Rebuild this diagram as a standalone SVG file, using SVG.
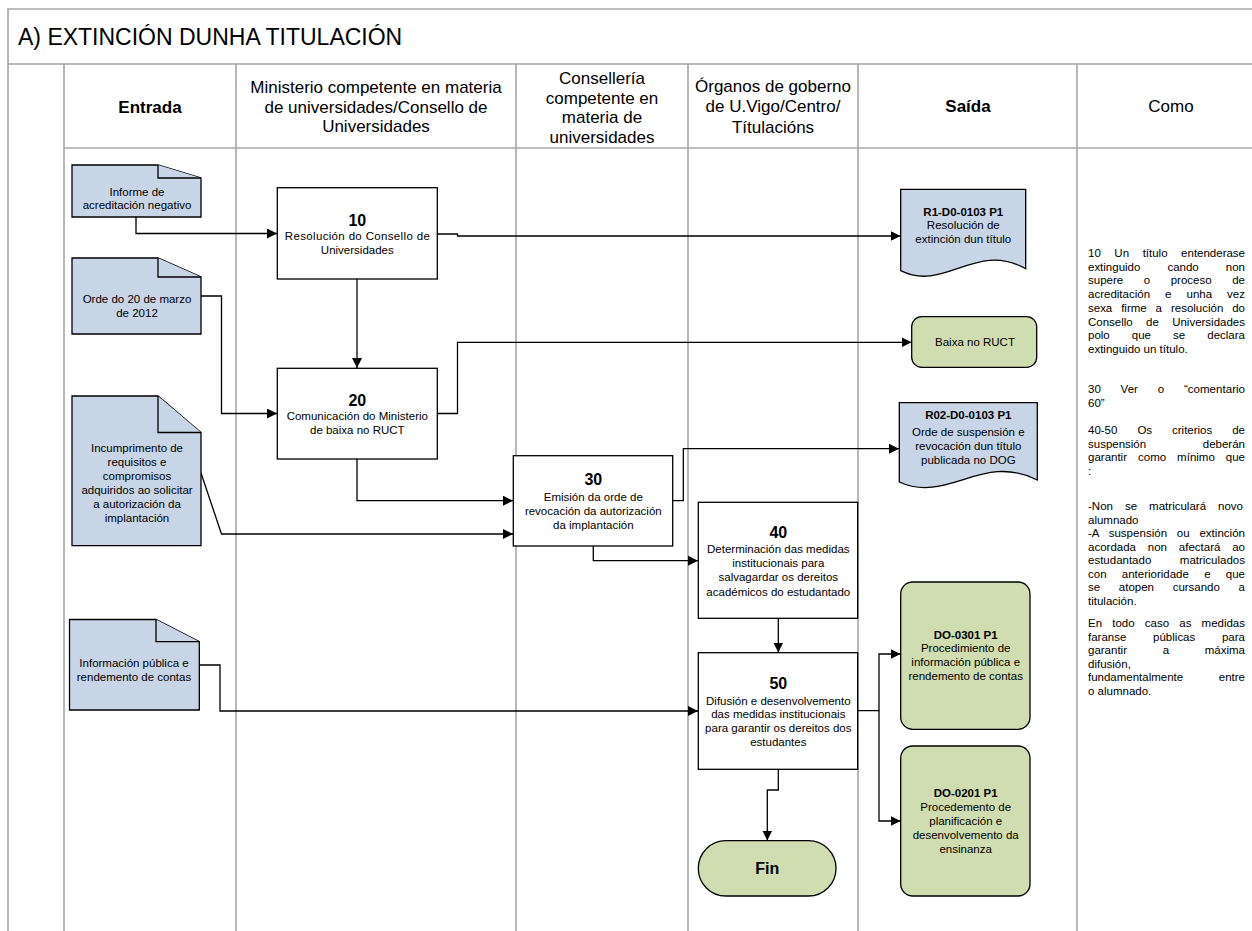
<svg xmlns="http://www.w3.org/2000/svg" width="1252" height="931" viewBox="0 0 1252 931">
<defs>
<style>
.lane{stroke:#A6A6A6;stroke-width:1.6;fill:none}
.doc{fill:#C8D5E6;stroke:#000;stroke-width:1.3;stroke-linejoin:miter}
.proc{fill:#fff;stroke:#000;stroke-width:1.3}
.grn{fill:#D0DDB1;stroke:#000;stroke-width:1.3}
.t{font-family:"Liberation Sans",Arial,sans-serif;font-size:11.5px;fill:#000;text-anchor:middle}
.n{font-size:16px;font-weight:bold}
.b{font-weight:bold}
.h{font-size:17px}
.c{font-size:11.5px;text-anchor:start}
.conn{fill:none;stroke:#000;stroke-width:1.3;marker-end:url(#arr)}
</style>
<marker id="arr" markerUnits="userSpaceOnUse" markerWidth="10" markerHeight="10" refX="10" refY="5" orient="auto">
<path d="M0,0 L10,5 L0,10 Z" fill="#000"/>
</marker>
</defs>
<rect width="1252" height="931" fill="#fff"/>
<g id="lanes">
<path class="lane" d="M8,931 V9 H1252 M8,64 H1252 M64,148 H1252 M64,64 V931 M236,64 V931 M516,64 V931 M688,64 V931 M858,64 V931 M1077,64 V931"/>
<text class="t" x="18" y="45" style="font-size:23px;text-anchor:start">A) EXTINCIÓN DUNHA TITULACIÓN</text>
<text class="t h b" x="150" y="113">Entrada</text>
<text class="t h" x="376" y="93">Ministerio competente en materia</text>
<text class="t h" x="376" y="113">de universidades/Consello de</text>
<text class="t h" x="376" y="132">Universidades</text>
<text class="t h" x="602" y="84">Consellería</text>
<text class="t h" x="602" y="103.5">competente en</text>
<text class="t h" x="602" y="123">materia de</text>
<text class="t h" x="602" y="142.5">universidades</text>
<text class="t h" x="773" y="92">Órganos de goberno</text>
<text class="t h" x="773" y="112">de U.Vigo/Centro/</text>
<text class="t h" x="773" y="133">Títulacións</text>
<text class="t h b" x="968" y="112">Saída</text>
<text class="t h" x="1171" y="112">Como</text>
</g>
<g id="connectors">
<path class="conn" d="M136,217 V233.5 H277"/>
<path class="conn" d="M437,234 H457.5 V236 H900.5"/>
<path class="conn" d="M357,279 V368"/>
<path class="conn" d="M201,296 H221.5 V413.5 H277"/>
<path class="conn" d="M437,413.5 H457.5 V342.3 H911.5"/>
<path class="conn" d="M357,459 V500.7 H513"/>
<path class="conn" d="M201,473 L221.5,534 H513"/>
<path class="conn" d="M672.7,500.7 H683.3 V448.7 H899"/>
<path class="conn" d="M593.3,546 V560.7 H698"/>
<path class="conn" d="M778.3,618.3 V652.5"/>
<path class="conn" d="M199.3,665 H220 V711 H698"/>
<path class="conn" d="M857.7,710.7 H879 V654 H900.5"/>
<path class="conn" d="M879,710.7 V821 H900.5"/>
<path class="conn" d="M778.3,769.3 V790 H767.3 V840.5"/>
</g>
<g id="in-informe">
<path class="doc" d="M72,165 H158 L201,178 V217 H72 Z"/>
<path class="doc" d="M158,165 V178 H201"/>
<text class="t" x="137" y="195.7">Informe de</text>
<text class="t" x="137" y="209">acreditación negativo</text>
</g>
<g id="in-orde">
<path class="doc" d="M72,258 H158 L201,277 V334 H72 Z"/>
<path class="doc" d="M158,258 V277 H201"/>
<text class="t" x="137" y="303">Orde do 20 de marzo</text>
<text class="t" x="137" y="317">de 2012</text>
</g>
<g id="in-incumprimento">
<path class="doc" d="M72,396 H158 L201,432.5 V545.7 H72 Z"/>
<path class="doc" d="M158,396 V432.5 H201"/>
<text class="t" x="137" y="452">Incumprimento de</text>
<text class="t" x="137" y="466">requisitos e</text>
<text class="t" x="137" y="480">compromisos</text>
<text class="t" x="137" y="494">adquiridos ao solicitar</text>
<text class="t" x="137" y="508">a autorización da</text>
<text class="t" x="137" y="522">implantación</text>
</g>
<g id="in-informacion">
<path class="doc" d="M69.5,619.5 H156 L199.3,641.7 V710 H69.5 Z"/>
<path class="doc" d="M156,619.5 V641.7 H199.3"/>
<text class="t" x="134" y="667.3">Información pública e</text>
<text class="t" x="134" y="680.7">rendemento de contas</text>
</g>
<g id="p10">
<rect class="proc" x="277.3" y="187.7" width="160" height="91.3"/>
<text class="t n" x="357.3" y="226">10</text>
<text class="t" x="357.3" y="240" textLength="145" lengthAdjust="spacing">Resolución do Consello de</text>
<text class="t" x="357.3" y="254">Universidades</text>
</g>
<g id="p20">
<rect class="proc" x="277.3" y="368.3" width="160" height="90.7"/>
<text class="t n" x="357.3" y="405.7">20</text>
<text class="t" x="357.3" y="419.7">Comunicación do Ministerio</text>
<text class="t" x="357.3" y="434">de baixa no RUCT</text>
</g>
<g id="p30">
<rect class="proc" x="513.3" y="455.7" width="159.4" height="90.3"/>
<text class="t n" x="593.3" y="485">30</text>
<text class="t" x="593.3" y="500.7">Emisión da orde de</text>
<text class="t" x="593.3" y="515">revocación da autorización</text>
<text class="t" x="593.3" y="529">da implantación</text>
</g>
<g id="p40">
<rect class="proc" x="698.3" y="502.3" width="159.4" height="116"/>
<text class="t n" x="778.3" y="538.4">40</text>
<text class="t" x="778.3" y="553">Determinación das medidas</text>
<text class="t" x="778.3" y="567.3">institucionais para</text>
<text class="t" x="778.3" y="581.3">salvagardar os dereitos</text>
<text class="t" x="778.3" y="595.7">académicos do estudantado</text>
</g>
<g id="p50">
<rect class="proc" x="698.3" y="652.7" width="159.4" height="116.6"/>
<text class="t n" x="778.3" y="689">50</text>
<text class="t" x="778.3" y="704.7">Difusión e desenvolvemento</text>
<text class="t" x="778.3" y="718.3">das medidas institucionais</text>
<text class="t" x="778.3" y="732.3">para garantir os dereitos dos</text>
<text class="t" x="778.3" y="746.3">estudantes</text>
</g>
<g id="fin">
<rect class="grn" x="698.3" y="840.7" width="137.7" height="55.3" rx="27.6"/>
<text class="t n" x="767.3" y="874">Fin</text>
</g>
<g id="out-r1">
<path class="doc" d="M900.7,189.3 H1025.7 V268.7 C975.7,240.7 944.5,292.7 900.7,270.7 Z"/>
<text class="t b" x="963.3" y="215.7">R1-D0-0103 P1</text>
<text class="t" x="963.3" y="229">Resolución de</text>
<text class="t" x="963.3" y="243.3">extinción dun título</text>
</g>
<g id="out-baixa">
<rect class="grn" x="911.7" y="316.7" width="125" height="50.6" rx="10"/>
<text class="t" x="975" y="346.3">Baixa no RUCT</text>
</g>
<g id="out-r02">
<path class="doc" d="M899.3,402.7 H1037.3 V480 C982.1,452 947.6,504 899.3,482 Z"/>
<text class="t b" x="968.3" y="419">R02-D0-0103 P1</text>
<text class="t" x="968.3" y="436.3">Orde de suspensión e</text>
<text class="t" x="968.3" y="449.7">revocación dun título</text>
<text class="t" x="968.3" y="464">publicada no DOG</text>
</g>
<g id="out-do0301">
<rect class="grn" x="900.7" y="582" width="129.3" height="147.3" rx="12"/>
<text class="t b" x="965.7" y="639">DO-0301 P1</text>
<text class="t" x="965.7" y="652.3">Procedimiento de</text>
<text class="t" x="965.7" y="666.3">información pública e</text>
<text class="t" x="965.7" y="680">rendemento de contas</text>
</g>
<g id="out-do0201">
<rect class="grn" x="900.7" y="746" width="129.3" height="150" rx="12"/>
<text class="t b" x="965.7" y="797.3">DO-0201 P1</text>
<text class="t" x="965.7" y="810.7">Procedemento de</text>
<text class="t" x="965.7" y="825">planificación e</text>
<text class="t" x="965.7" y="839">desenvolvemento da</text>
<text class="t" x="965.7" y="853.3">ensinanza</text>
</g>
<g id="como">
<text class="t c" x="1088" y="257" word-spacing="10.4" textLength="157" lengthAdjust="spacing">10 Un título entenderase</text>
<text class="t c" x="1088" y="270.7" word-spacing="23.9" textLength="157" lengthAdjust="spacing">extinguido cando non</text>
<text class="t c" x="1088" y="284.4" word-spacing="17.4" textLength="157" lengthAdjust="spacing">supere o proceso de</text>
<text class="t c" x="1088" y="298.1" word-spacing="11.8" textLength="157" lengthAdjust="spacing">acreditación e unha vez</text>
<text class="t c" x="1088" y="311.8" word-spacing="5.7" textLength="157" lengthAdjust="spacing">sexa firme a resolución do</text>
<text class="t c" x="1088" y="325.5" word-spacing="10.1" textLength="157" lengthAdjust="spacing">Consello de Universidades</text>
<text class="t c" x="1088" y="339.2" word-spacing="18.9" textLength="157" lengthAdjust="spacing">polo que se declara</text>
<text class="t c" x="1088" y="352.9">extinguido un título.</text>
<text class="t c" x="1088" y="393" word-spacing="16.5" textLength="157" lengthAdjust="spacing">30 Ver o “comentario</text>
<text class="t c" x="1088" y="406.5">60”</text>
<text class="t c" x="1088" y="434" word-spacing="16.8" textLength="157" lengthAdjust="spacing">40-50 Os criterios de</text>
<text class="t c" x="1088" y="447.5" word-spacing="53.4" textLength="157" lengthAdjust="spacing">suspensión deberán</text>
<text class="t c" x="1088" y="461" word-spacing="7.8" textLength="157" lengthAdjust="spacing">garantir como mínimo que</text>
<text class="t c" x="1088" y="474.5">:</text>
<text class="t c" x="1088" y="510" word-spacing="8.8" textLength="155" lengthAdjust="spacing">-Non se matriculará novo</text>
<text class="t c" x="1088" y="523.5">alumnado</text>
<text class="t c" x="1088" y="537" word-spacing="6.5" textLength="157" lengthAdjust="spacing">-A suspensión ou extinción</text>
<text class="t c" x="1088" y="550.5" word-spacing="8.6" textLength="157" lengthAdjust="spacing">acordada non afectará ao</text>
<text class="t c" x="1088" y="564" word-spacing="25.3" textLength="157" lengthAdjust="spacing">estudantado matriculados</text>
<text class="t c" x="1088" y="577.5" word-spacing="12.1" textLength="157" lengthAdjust="spacing">con anterioridade e que</text>
<text class="t c" x="1088" y="591" word-spacing="15.5" textLength="157" lengthAdjust="spacing">se atopen cursando a</text>
<text class="t c" x="1088" y="604.5">titulación.</text>
<text class="t c" x="1088" y="627" word-spacing="7" textLength="157" lengthAdjust="spacing">En todo caso as medidas</text>
<text class="t c" x="1088" y="640.5" word-spacing="23.5" textLength="157" lengthAdjust="spacing">faranse públicas para</text>
<text class="t c" x="1088" y="654" word-spacing="32.5" textLength="157" lengthAdjust="spacing">garantir a máxima</text>
<text class="t c" x="1088" y="667.5">difusión,</text>
<text class="t c" x="1088" y="681" word-spacing="32.4" textLength="157" lengthAdjust="spacing">fundamentalmente entre</text>
<text class="t c" x="1088" y="694.5">o alumnado.</text>
</g>
</svg>
